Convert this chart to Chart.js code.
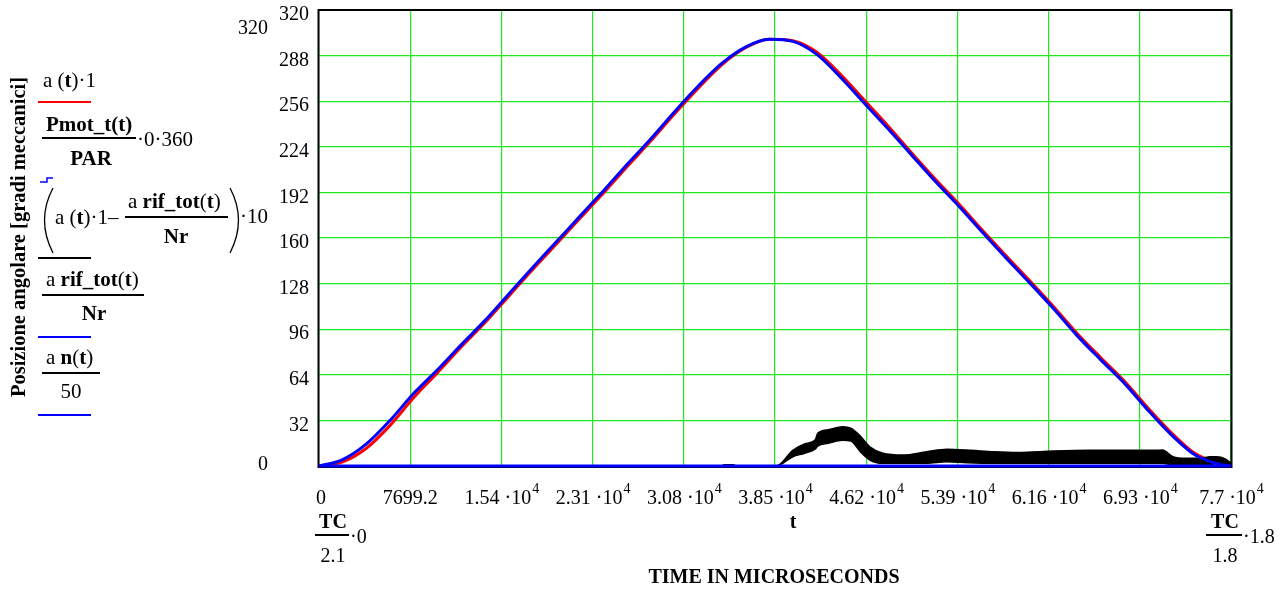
<!DOCTYPE html>
<html>
<head>
<meta charset="utf-8">
<script src="https://cdn.jsdelivr.net/npm/chart.js@4.4.1/dist/chart.umd.min.js"></script>
<style>
  html, body { margin: 0; padding: 0; background: #fff; }
</style>
</head>
<body>
<canvas id="grafico" width="1288" height="589"></canvas>
<script>
// Tempi in microsecondi e posizioni
const tempi = [0, 2000, 4000, 6000, 8000, 10000, 12000, 14000, 16000, 18000, 20000, 22000, 24000, 26000, 28000, 30000, 32000, 34000, 36000, 38000,
    40000, 42000, 44000, 46000, 48000, 50000, 52000, 54000, 56000, 58000, 60000, 62000, 64000, 66000, 68000, 70000, 72000, 74000, 76000, 76992];
// a(t)*1
const posA = [0, 3, 12.5, 28.5, 48, 65.5, 83.5, 100.5, 119, 137.5, 155.5, 173.5, 191.5, 210, 228, 247, 265, 281.5, 293.5, 299.5,
    298.5, 290.5, 275, 257, 239, 220, 201.5, 184, 165.5, 147.5, 130, 112, 93, 76, 59.5, 40.5, 23, 8.5, 2, 0];
// arif_tot(t)/Nr
const posRif = [0, 4.5, 15.5, 32, 51, 67.5, 85, 102, 120.5, 139, 157, 175, 193, 211.5, 229.5, 248.5, 266.5, 282.5, 294, 299.5,
    298, 289, 273, 255, 237, 218.5, 200, 182.5, 164, 146, 128.5, 110.5, 91.5, 74.5, 58, 39, 21.5, 7.5, 1.2, 0];

// Errore (a - arif/Nr)*10: banda tra inviluppo superiore e inferiore
const tempiErr = [0, 34000, 34200, 35000, 35200, 38600, 40000, 41000, 41900, 42100, 43000, 44200, 44900, 45700, 46500, 47600, 49300,
    51300, 53000, 54700, 57000, 59000, 62000, 65000, 68000, 70500, 71200, 72100, 73200, 74500, 75200, 75800, 76500, 76992];
const errSup = [0, 0, 0.8, 0.8, 0, 0, 11, 15.5, 18.5, 23, 25.5, 27.5, 26.5, 21, 13.5, 9, 7.7,
    10, 11.7, 11.2, 10, 9.5, 10.5, 11, 11, 11, 11.2, 6.5, 5.4, 5.4, 6.5, 6.5, 5, 2];
const errInf = [0, 0, 0, 0, 0, 0, 6.5, 9, 12, 14, 16, 18, 17.5, 10, 4.2, 1.9, 1.9,
    1.9, 3, 2.3, 1.9, 1.9, 1.9, 1.9, 1.9, 1.9, 1.9, 0.5, 0, 0, 0.5, 1.9, 1, 0];

// Pmot_t(t)/PAR*0*360 e an(t)/50
const tempiZero = [0, 76992];
const posPmot = [0, 0];
const posAn = [0, 0];

// Assi
const xTicks = [0, 7699.2, 15398.4, 23097.6, 30796.8, 38496, 46195.2, 53894.4, 61593.6, 69292.8, 76992];
const xTickLabels = ["0", "7699.2", "1.54 ·10^4", "2.31 ·10^4", "3.08 ·10^4", "3.85 ·10^4", "4.62 ·10^4", "5.39 ·10^4", "6.16 ·10^4", "6.93 ·10^4", "7.7 ·10^4"];
const yMin = 0, yMax = 320, yStep = 32;

const FONT = '"Liberation Serif", "Times New Roman", serif';
const VERDE = "#1ee81e";

const punti = (xs, ys) => xs.map((x, i) => ({ x: x, y: ys[i] }));

// Scrive un testo composto da parti normali e in grassetto
const scrivi = (ctx, x, y, parti, size = 20, align = "left") => {
    let w = 0;
    parti.forEach(([t, b]) => {
        ctx.font = `${b ? "bold " : ""}${size}px ${FONT}`;
        w += ctx.measureText(t).width;
    });
    let cx = align === "center" ? x - w / 2 : align === "right" ? x - w : x;
    ctx.textAlign = "left";
    ctx.textBaseline = "alphabetic";
    ctx.fillStyle = "#000";
    parti.forEach(([t, b]) => {
        ctx.font = `${b ? "bold " : ""}${size}px ${FONT}`;
        ctx.fillText(t, cx, y);
        cx += ctx.measureText(t).width;
    });
    return cx;
};

const linea = (ctx, x1, y1, x2, y2, color, w) => {
    ctx.beginPath();
    ctx.strokeStyle = color;
    ctx.lineWidth = w;
    ctx.moveTo(x1, y1);
    ctx.lineTo(x2, y2);
    ctx.stroke();
};

// Cornice del grafico
const cornice = {
    id: "cornice",
    beforeDatasetsDraw(chart) {
        const { ctx, chartArea: a } = chart;
        ctx.save();
        ctx.strokeStyle = "#000";
        ctx.lineWidth = 2;
        ctx.strokeRect(a.left - 0.5, a.top, a.right - a.left + 1, a.bottom - a.top + 1);
        ctx.restore();
    }
};

// Etichette Mathcad: tick dell'asse x, legenda, titoli
const testi = {
    id: "testi",
    afterDraw(chart) {
        const { ctx } = chart;
        const sx = chart.scales.x;
        const sy = chart.scales.y;
        ctx.save();

        // tick asse x con esponente
        xTicks.forEach((v, i) => {
            const px = sx.getPixelForValue(v);
            const [mant, esp] = xTickLabels[i].split("^");
            ctx.font = `20px ${FONT}`;
            const wm = ctx.measureText(mant).width;
            ctx.font = `14px ${FONT}`;
            const we = esp ? ctx.measureText(esp).width : 0;
            const x0 = px - (wm + we) / 2 + (i === 0 ? 2 : 0);
            scrivi(ctx, x0, 504, [[mant, false]]);
            if (esp) scrivi(ctx, x0 + wm + 1, 493, [[esp, false]], 14);
        });

        // limiti asse y
        scrivi(ctx, 268, sy.getPixelForValue(yMax) + 24, [["320", false]], 20, "right");
        scrivi(ctx, 268, sy.getPixelForValue(yMin) + 4, [["0", false]], 20, "right");

        // limiti asse x
        scrivi(ctx, 333, 528, [["TC", true]], 20, "center");
        linea(ctx, 315, 535, 349, 535, "#000", 2);
        scrivi(ctx, 333, 562, [["2.1", false]], 20, "center");
        scrivi(ctx, 350, 543, [["·0", false]]);

        scrivi(ctx, 793, 528, [["t", true]], 20, "center");

        scrivi(ctx, 1225, 528, [["TC", true]], 20, "center");
        linea(ctx, 1206, 535, 1242, 535, "#000", 2);
        scrivi(ctx, 1225, 562, [["1.8", false]], 20, "center");
        scrivi(ctx, 1243, 543, [["·1.8", false]]);

        scrivi(ctx, 774, 583, [["TIME IN MICROSECONDS", true]], 20, "center");

        // titolo asse y
        ctx.save();
        ctx.translate(20, 237);
        ctx.rotate(-Math.PI / 2);
        ctx.font = `bold 20.5px ${FONT}`;
        ctx.textAlign = "center";
        ctx.textBaseline = "middle";
        ctx.fillStyle = "#000";
        ctx.fillText("Posizione angolare [gradi meccanici]", 0, 0);
        ctx.restore();

        // legenda
        scrivi(ctx, 43, 87, [["a (", false], ["t", true], [")·1", false]], 21);
        linea(ctx, 38, 102, 91, 102, "#ff0000", 2);

        scrivi(ctx, 46, 131, [["Pmot_t(t)", true]], 21);
        linea(ctx, 42, 138, 136, 138, "#000", 2);
        scrivi(ctx, 91, 165, [["PAR", true]], 21, "center");
        scrivi(ctx, 137, 146, [["·0·360", false]], 21);
        ctx.beginPath();
        ctx.strokeStyle = "#0000ff";
        ctx.lineWidth = 1.5;
        ctx.moveTo(40, 182); ctx.lineTo(47, 182); ctx.lineTo(47, 178); ctx.lineTo(53, 178);
        ctx.stroke();

        ctx.beginPath();
        ctx.strokeStyle = "#000";
        ctx.lineWidth = 1.3;
        ctx.moveTo(53, 188); ctx.quadraticCurveTo(36, 220, 53, 253);
        ctx.moveTo(230, 188); ctx.quadraticCurveTo(247, 220, 230, 253);
        ctx.stroke();
        scrivi(ctx, 55, 224, [["a (", false], ["t", true], [")·1–", false]], 21);
        scrivi(ctx, 128, 208, [["a ", false], ["rif_tot", true], ["(", false], ["t", true], [")", false]], 21);
        linea(ctx, 125, 217, 228, 217, "#000", 2);
        scrivi(ctx, 176, 243, [["Nr", true]], 21, "center");
        scrivi(ctx, 240, 223, [["·10", false]], 21);
        linea(ctx, 38, 258, 91, 258, "#000", 2);

        scrivi(ctx, 46, 286, [["a ", false], ["rif_tot", true], ["(", false], ["t", true], [")", false]], 21);
        linea(ctx, 42, 295, 144, 295, "#000", 2);
        scrivi(ctx, 94, 320, [["Nr", true]], 21, "center");
        linea(ctx, 38, 337, 91, 337, "#0000ff", 2);

        scrivi(ctx, 46, 364, [["a ", false], ["n", true], ["(", false], ["t", true], [")", false]], 21);
        linea(ctx, 42, 373, 100, 373, "#000", 2);
        scrivi(ctx, 71, 398, [["50", false]], 21, "center");
        linea(ctx, 38, 415, 91, 415, "#0000ff", 2);

        ctx.restore();
    }
};

const creaGrafico = () => {
    const ctx = document.getElementById("grafico").getContext("2d");
    new Chart(ctx, {
        type: "line",
        data: {
            datasets: [
                {
                    label: "arif_tot(t)/Nr",
                    data: punti(tempi, posRif),
                    borderColor: "#0000ff",
                    borderWidth: 3,
                    cubicInterpolationMode: "monotone",
                    order: 0,
                },
                {
                    label: "an(t)/50",
                    data: punti(tempiZero, posAn),
                    borderColor: "#0000ff",
                    borderWidth: 3,
                    order: 1,
                },
                {
                    label: "Pmot_t(t)/PAR*0*360",
                    data: punti(tempiZero, posPmot),
                    borderColor: "#0000ff",
                    borderWidth: 2,
                    stepped: true,
                    order: 1,
                },
                {
                    label: "errore sup",
                    data: punti(tempiErr, errSup),
                    borderColor: "#000",
                    backgroundColor: "#000",
                    borderWidth: 1.5,
                    fill: "+1",
                    cubicInterpolationMode: "monotone",
                    order: 2,
                },
                {
                    label: "errore inf",
                    data: punti(tempiErr, errInf),
                    borderColor: "#000",
                    borderWidth: 1.5,
                    cubicInterpolationMode: "monotone",
                    order: 2,
                },
                {
                    label: "a(t)",
                    data: punti(tempi, posA),
                    borderColor: "#ff0000",
                    borderWidth: 3,
                    cubicInterpolationMode: "monotone",
                    order: 3,
                },
            ],
        },
        options: {
            responsive: false,
            animation: false,
            clip: 4,
            layout: { padding: { left: 259, top: 10, right: 57, bottom: 0 } },
            elements: { point: { radius: 0 }, line: { fill: false } },
            plugins: {
                legend: { display: false },
                tooltip: { enabled: false },
            },
            scales: {
                x: {
                    type: "linear",
                    min: 0,
                    max: 76992,
                    afterBuildTicks: (scale) => {
                        scale.ticks = xTicks.map((v) => ({ value: v }));
                    },
                    afterFit: (scale) => {
                        scale.height = 123;
                        scale.paddingLeft = 0;
                        scale.paddingRight = 0;
                    },
                    ticks: { display: false },
                    grid: { color: VERDE, lineWidth: 1.2, drawTicks: false },
                    border: { display: false },
                },
                y: {
                    min: yMin,
                    max: yMax,
                    afterFit: (scale) => {
                        scale.width = 60;
                        scale.paddingTop = 0;
                        scale.paddingBottom = 0;
                    },
                    ticks: {
                        stepSize: yStep,
                        padding: 10,
                        labelOffset: 5,
                        color: "#000",
                        font: { family: FONT, size: 20 },
                        callback: (v) => (v === 0 ? "" : v),
                    },
                    grid: { color: VERDE, lineWidth: 1.2, drawTicks: false },
                    border: { display: false },
                },
            },
        },
        plugins: [cornice, testi],
    });
};

document.addEventListener("DOMContentLoaded", creaGrafico);
</script>
</body>
</html>
